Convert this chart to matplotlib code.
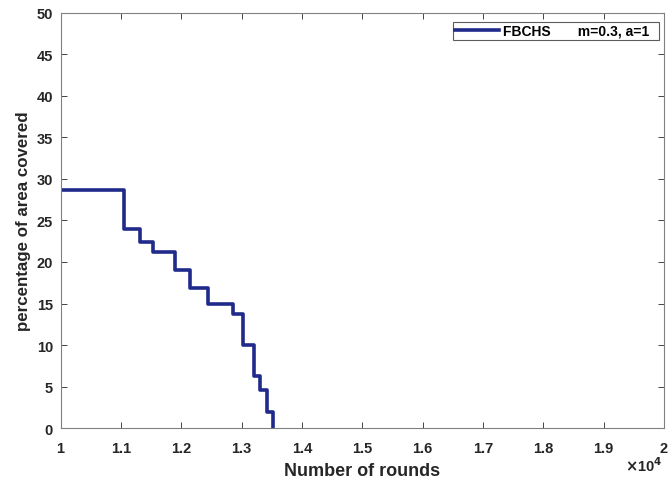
import matplotlib
matplotlib.use("Agg")
import matplotlib.pyplot as plt
import numpy as np

plt.rcParams['font.family'] = ['Liberation Sans', 'DejaVu Sans']
plt.rcParams['font.weight'] = 'bold'

# step data: rounds where coverage changes and the coverage level after each change
rounds = [10000, 11050, 11320, 11540, 11890, 12150, 12450, 12860, 13020, 13200, 13310, 13420, 13520, 13520]
coverage = [28.7, 24.0, 22.4, 21.2, 19.0, 16.9, 14.9, 13.75, 10.06, 6.33, 4.65, 2.0, 0.0, 0.0]
series_label = "FBCHS       m=0.3, a=1  "
xticks = [10000, 11000, 12000, 13000, 14000, 15000, 16000, 17000, 18000, 19000, 20000]
xticklabels = ['1', '1.1', '1.2', '1.3', '1.4', '1.5', '1.6', '1.7', '1.8', '1.9', '2']
yticks = [0, 5, 10, 15, 20, 25, 30, 35, 40, 45, 50]

fig = plt.figure(figsize=(6.68, 4.81), dpi=100)
ax = fig.add_axes([0.0906, 0.1075, 0.9034, 0.8644])

ax.step(rounds, coverage, where='post', color='#1f2a8a', lw=2.6, label=series_label)

ax.set_xlim(10000, 20000)
ax.set_ylim(0, 50)
ax.set_xticks(xticks)
ax.set_xticklabels(xticklabels)
ax.set_yticks(yticks)
ax.tick_params(direction='in', top=True, right=True, length=4, width=0.6,
               colors='#262626', labelsize=10.5)
ax.tick_params(axis='x', pad=9)
ax.tick_params(axis='y', pad=5.5)
for lbl in ax.get_xticklabels() + ax.get_yticklabels():
    lbl.set_fontweight('bold')
for s in ax.spines.values():
    s.set_color('#808080')
    s.set_linewidth(0.8)

ax.set_xlabel('Number of rounds', fontsize=13, fontweight='bold', color='#262626', labelpad=5)
ax.set_ylabel('percentage of area covered', fontsize=12.2, fontweight='bold', color='#262626', labelpad=4)

fig.text(0.964, 0.018, r'$\times$10$^{4}$', fontsize=10.5, fontweight='bold', color='#262626', ha='center')

leg = ax.legend(loc='upper right', frameon=True, fancybox=False,
                edgecolor='#333333', handlelength=3.2, borderpad=0.15, handletextpad=0.3,
                bbox_to_anchor=(1.004, 0.9947), prop={'weight': 'bold', 'size': 10})
leg.get_frame().set_linewidth(0.8)

fig.savefig('out.png', dpi=100)
